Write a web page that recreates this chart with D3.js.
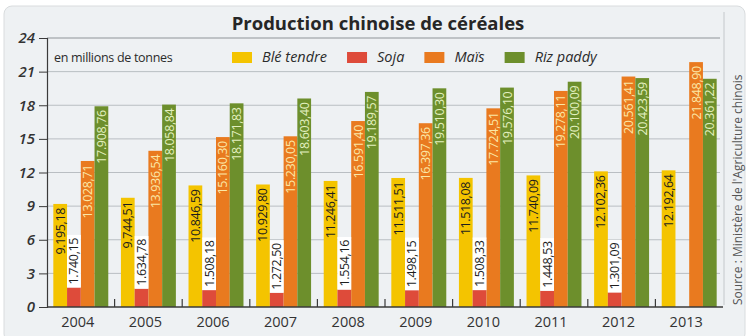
<!DOCTYPE html>
<html><head><meta charset="utf-8">
<script src="https://cdn.jsdelivr.net/npm/d3@7"></script>
<style>body{margin:0;background:#fff}svg{display:block}</style>
</head><body>
<svg id="c" width="747" height="336"></svg>
<script>
const years = ["2004","2005","2006","2007","2008","2009","2010","2011","2012","2013"];
const seriesNames = ["Blé tendre","Soja","Maïs","Riz paddy"];
const bleTendre = [9195.18,9744.51,10846.59,10929.80,11246.41,11511.51,11518.08,11740.09,12102.36,12192.64];
const soja = [1740.15,1634.78,1508.18,1272.50,1554.16,1498.15,1508.33,1448.53,1301.09,null];
const mais = [13028.71,13936.54,15160.30,15230.05,16591.40,16397.36,17724.51,19278.11,20561.41,21848.90];
const riz = [17908.76,18058.84,18171.83,18603.40,19189.57,19510.30,19576.10,20100.09,20423.59,20361.22];
const yTicks = [0,3,6,9,12,15,18,21,24];
const title = "Production chinoise de céréales";
const unitLabel = "en millions de tonnes";
const source = "Source : Ministère de l'Agriculture chinois";

const colors = ["#f4c400","#de4b3a","#e97a1f","#6d8f2c"];
const textColors = ["#1e1e1e","#1e1e1e","#fbe7a6","#e2efbf"];
const seriesValues = [bleTendre, soja, mais, riz];

const loc = d3.formatLocale({decimal:",",thousands:".",grouping:[3],currency:["",""]});
const fmt = loc.format(",.2f");

const svg = d3.select("#c");
const font = "'Open Sans', 'Noto Sans', sans-serif";

// frame
svg.append("rect").attr("x",4).attr("y",6).attr("width",741).attr("height",336)
  .attr("rx",8).attr("fill","#eef1f3").attr("stroke","#d9dcde");

const mLeft = 47, mRight = 723, mTop = 38, mBottom = 307;
const y = d3.scaleLinear().domain([0,24]).range([mBottom, mTop]);
const x0 = d3.scaleBand().domain(years).range([mLeft, mRight]).padding(0);
const x1 = d3.scaleBand().domain(seriesNames).range([0, x0.bandwidth()]).paddingInner(0).paddingOuter(0.46);

// gridlines
svg.append("g").selectAll("line").data(yTicks.filter(d=>d>0)).join("line")
  .attr("x1", mLeft).attr("x2", 720).attr("y1", d=>y(d)).attr("y2", d=>y(d))
  .attr("stroke", d=> d===24 ? "#8f9498" : "#b9bec2").attr("stroke-width", 1);

// separator line on right
svg.append("line").attr("x1",724).attr("x2",724).attr("y1",12).attr("y2",305)
  .attr("stroke","#c4c8cb").attr("stroke-width",1);

// title
svg.append("text").attr("x",378).attr("y",30).attr("text-anchor","middle")
  .attr("font-family",font).attr("font-weight",700).attr("font-size",18.5)
  .attr("fill","#262626").text(title);

// unit label
svg.append("text").attr("x",54).attr("y",62).attr("font-family",font)
  .attr("font-size",12.5).attr("fill","#2b2b2b").attr("letter-spacing",-0.3).text(unitLabel);

// legend
let lx = 232;
seriesNames.forEach((name,i)=>{
  svg.append("rect").attr("x",lx).attr("y",52).attr("width",20).attr("height",11).attr("fill",colors[i]);
  const t = svg.append("text").attr("x",lx+30).attr("y",62).attr("font-family",font)
    .attr("font-style","italic").attr("font-size",14.5).attr("fill","#2b2b2b").text(name);
  lx += 30 + t.node().getComputedTextLength() + 20;
});

// bars
const g = svg.append("g");
years.forEach((yr, yi)=>{
  seriesNames.forEach((s, si)=>{
    const v = seriesValues[si][yi];
    if (v == null) return;
    const bx = x0(yr) + x1(s), bw = x1.bandwidth();
    const by = y(v/1000);
    g.append("rect").attr("x",bx).attr("y",by).attr("width",bw).attr("height",mBottom-by).attr("fill",colors[si]);
  });
});

// labels
years.forEach((yr, yi)=>{
  seriesNames.forEach((s, si)=>{
    const v = seriesValues[si][yi];
    if (v == null) return;
    const bx = x0(yr) + x1(s), bw = x1.bandwidth();
    const cx = bx + bw/2;
    const by = y(v/1000);
    const label = fmt(v);
    if (si === 1) {
      const t = g.append("text").attr("transform",`translate(${cx},${by-3}) rotate(-90)`)
        .attr("text-anchor","start").attr("dominant-baseline","central")
        .attr("font-family",font).attr("font-size",12.5).attr("letter-spacing",-0.35)
        .attr("fill",textColors[si]).text(label);
      const L = t.node().getComputedTextLength();
      g.insert("rect", () => t.node()).attr("x",bx).attr("y",by-L-6).attr("width",bw).attr("height",L+6).attr("fill","#ffffff");
    } else {
      g.append("text").attr("transform",`translate(${cx},${by+4}) rotate(-90)`)
        .attr("text-anchor","end").attr("dominant-baseline","central")
        .attr("font-family",font).attr("font-size",12.5).attr("letter-spacing",-0.35)
        .attr("fill",textColors[si]).text(label);
    }
  });
});

// y axis
const yAxis = svg.append("g").attr("transform",`translate(${mLeft},0)`)
  .call(d3.axisLeft(y).tickValues(yTicks).tickSize(8).tickPadding(4));
yAxis.select(".domain").attr("stroke","#3a3a3a").attr("stroke-width",1.2);
yAxis.selectAll(".tick line").attr("stroke","#3a3a3a");
yAxis.selectAll("text").attr("font-family",font).attr("font-style","italic").attr("font-weight",600)
  .attr("font-size",15).attr("fill","#333");

// x axis
svg.append("line").attr("x1",mLeft).attr("x2",mRight).attr("y1",mBottom).attr("y2",mBottom)
  .attr("stroke","#3a3a3a").attr("stroke-width",1.5);
svg.append("g").selectAll("line").data(years.slice(1)).join("line")
  .attr("x1",d=>x0(d)).attr("x2",d=>x0(d)).attr("y1",mBottom).attr("y2",mBottom-8)
  .attr("stroke","#3a3a3a").attr("stroke-width",1.2);
svg.append("g").selectAll("text").data(years).join("text")
  .attr("x",d=>x0(d)+x0.bandwidth()/2-3).attr("y",327).attr("text-anchor","middle")
  .attr("font-family",font).attr("font-size",14.5).attr("fill","#333").text(d=>d);

// source
svg.append("text").attr("transform","translate(737,305) rotate(-90)")
  .attr("text-anchor","start").attr("dominant-baseline","central")
  .attr("font-family",font).attr("font-size",12).attr("fill","#555").text(source);
</script>
</body></html>
